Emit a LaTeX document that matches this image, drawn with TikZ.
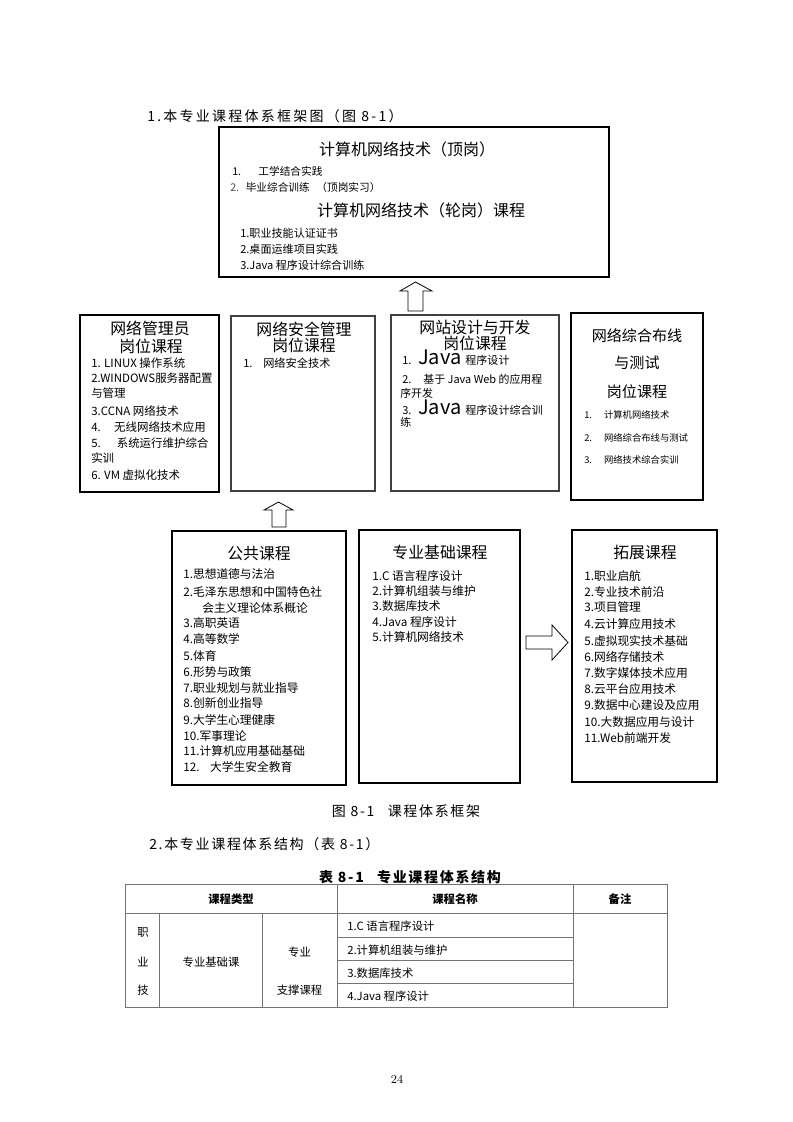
\documentclass[tikz,border=0pt]{standalone}
\usepackage{fontspec}
\usetikzlibrary{fit}
\setmainfont{Noto Sans CJK SC}
\newfontfamily\spaced{Noto Sans CJK SC}[LetterSpace=12]
\newfontfamily\spacedw{Noto Sans CJK SC}[LetterSpace=16]
\newfontfamily\lmr{Latin Modern Roman}
\newcommand{\fsz}[1]{\fontsize{#1pt}{#1pt}\selectfont}
\tikzset{
  bxa/.style={draw=black, line width=1.1pt, inner sep=0pt},
  bxb/.style={draw=black!75, line width=0.8pt, inner sep=0pt},
  ttl/.style={inner sep=0pt, font=\fsz{11.9}},
  itm/.style={inner sep=0pt, anchor=west, font=\fsz{8.8}},
  blk/.style={draw=black, line width=0.6pt, fill=white},
  tbl/.style={draw=black!55, line width=0.7pt},
  ttext/.style={inner sep=0pt, font=\fsz{8.5}},
  hd/.style={inner sep=0pt, font=\spaced\fsz{10.5}},
}
\begin{document}
\begin{tikzpicture}[x=0.75pt, y=-0.75pt]
\useasboundingbox (0,0) rectangle (793,1122);
\fill[white] (0,0) rectangle (793,1122);

% heading
\node[hd, anchor=west, font=\spacedw\fsz{10.5}] (h1) at (147,116) {1.本专业课程体系框架图（图 8-1）};

% top box
\node[bxa, fit={(219,127)(609,277)}] (top) {};
\node[ttl, font=\fsz{12}] (t1) at (407,149) {计算机网络技术（顶岗）};
\node[itm, font=\fsz{8}] (t2) at (232,171) {1.\hspace{13pt}工学结合实践};
\node[itm, font=\fsz{8}] (t3) at (230,187) {\textcolor{black!70}{2.}\hspace{5pt}毕业综合训练\hspace{5pt}（顶岗实习）};
\node[ttl, font=\fsz{12}] (t4) at (421,210) {计算机网络技术（轮岗）课程};
\node[itm, font=\fsz{8.3}] (t5) at (240,233) {1.职业技能认证证书};
\node[itm, font=\fsz{8.3}] (t6) at (240,249) {2.桌面运维项目实践};
\node[itm, font=\fsz{8.3}] (t7) at (240,265) {3.Java 程序设计综合训练};

% middle row
\node[bxa, fit={(80,315)(219,492)}] (m1) {};
\node[bxb, fit={(231,316)(375,491)}] (m2) {};
\node[bxb, fit={(391,315)(559,491)}] (m3) {};
\node[bxa, fit={(571,313)(703,500)}] (m4) {};

\node[ttl] (m1a) at (150,328) {网络管理员};
\node[ttl] (m1b) at (151,346) {岗位课程};
\foreach \yy/\tx [count=\i] in {
  363/{1. LINUX 操作系统},
  378/{2.WINDOWS服务器配置},
  393/{与管理},
  411/{3.CCNA 网络技术},
  427/{4.\hspace{10pt}无线网络技术应用},
  443/{5.\hspace{12pt}系统运行维护综合},
  458/{实训},
  475/{6. VM 虚拟化技术}}
  \node[itm, font=\fsz{8.6}] (mi\i) at (91,\yy) {\tx};

\node[ttl] (m2a) at (304,329) {网络安全管理};
\node[ttl] (m2b) at (304,345) {岗位课程};
\node[itm, font=\fsz{8.4}] (m2i) at (243,363) {1.\hspace{8pt}网络安全技术};

\node[ttl] (m3a) at (475,327) {网站设计与开发};
\node[ttl] (m3b) at (475,343) {岗位课程};
\node[inner sep=0pt, anchor=base west, font=\fsz{8.3}] (m3i1) at (402,364) {1.\hspace{5pt}{\fsz{15}Java}\hspace{3pt}程序设计};
\node[itm, font=\fsz{8.2}] (m3i2) at (402,379) {2.\hspace{9pt}基于 Java Web 的应用程};
\node[itm, font=\fsz{8.2}] (m3i3) at (400,393) {序开发};
\node[inner sep=0pt, anchor=base west, font=\fsz{8.3}] (m3i4) at (402,414) {3.\hspace{5pt}{\fsz{15}Java}\hspace{3pt}程序设计综合训};
\node[itm, font=\fsz{8.2}] (m3i5) at (400,422) {练};

\node[ttl, font=\fsz{11.3}] (m4a) at (637,336) {网络综合布线};
\node[ttl, font=\fsz{11.3}] (m4b) at (637,363) {与测试};
\node[ttl, font=\fsz{11.3}] (m4c) at (637,392) {岗位课程};
\node[itm, font=\fsz{7}] (m4i1) at (584,415) {1.\hspace{9pt}计算机网络技术};
\node[itm, font=\fsz{7}] (m4i2) at (584,438) {2.\hspace{9pt}网络综合布线与测试};
\node[itm, font=\fsz{7}] (m4i3) at (584,460) {3.\hspace{9pt}网络技术综合实训};

% bottom row
\node[bxa, fit={(172,531)(346,785)}] (b1) {};
\node[bxa, fit={(359,530)(520,783)}] (b2) {};
\node[bxa, fit={(572,530)(717,782)}] (b3) {};

\node[ttl] (b1t) at (259,554) {公共课程};
\foreach \yy/\tx [count=\i] in {
  574/{1.思想道德与法治},
  592/{2.毛泽东思想和中国特色社},
  623/{3.高职英语},
  639/{4.高等数学},
  656/{5.体育},
  672/{6.形势与政策},
  688/{7.职业规划与就业指导},
  703/{8.创新创业指导},
  720/{9.大学生心理健康},
  736/{10.军事理论},
  751/{11.计算机应用基础基础},
  767/{12.\hspace{8pt}大学生安全教育}}
  \node[itm] (bi\i) at (183,\yy) {\tx};
\node[itm] (bi2b) at (202,608) {会主义理论体系概论};

\node[ttl] (b2t) at (440,552) {专业基础课程};
\foreach \yy/\tx [count=\i] in {
  576/{1.C 语言程序设计},
  591/{2.计算机组装与维护},
  606/{3.数据库技术},
  622/{4.Java 程序设计},
  637/{5.计算机网络技术}}
  \node[itm] (bj\i) at (372,\yy) {\tx};

\node[ttl] (b3t) at (645,552) {拓展课程};
\foreach \yy/\tx [count=\i] in {
  576/{1.职业启航},
  592/{2.专业技术前沿},
  607/{3.项目管理},
  624/{4.云计算应用技术},
  641/{5.虚拟现实技术基础},
  657/{6.网络存储技术},
  673/{7.数字媒体技术应用},
  689/{8.云平台应用技术},
  705/{9.数据中心建设及应用},
  722/{10.大数据应用与设计},
  738/{11.Web前端开发}}
  \node[itm] (bk\i) at (584,\yy) {\tx};

% block arrows
\coordinate (a1) at (415.5,311);
\draw[blk] (a1) ++(-7.5,0) -- ++(0,-20) -- ++(-8,0) -- ++(15.5,-9) -- ++(16.5,9) -- ++(-9,0) -- ++(0,20) -- cycle;
\coordinate (a2) at (279,527);
\draw[blk] (a2) ++(-7,0) -- ++(0,-17) -- ++(-8,0) -- ++(14.5,-8) -- ++(14.5,8) -- ++(-7,0) -- ++(0,17) -- cycle;
\coordinate (a3) at (526,642.5);
\draw[blk] (a3) ++(0,-6.5) -- ++(26,0) -- ++(0,-11) -- ++(16,17.5) -- ++(-16,17.5) -- ++(0,-11) -- ++(-26,0) -- cycle;

% caption and section heading
\node[hd] (cap) at (406,811) {图 8-1\hspace{10pt}课程体系框架};
\node[hd, anchor=west] (h2) at (149,844) {2.本专业课程体系结构（表 8-1）};
\node[hd, font=\spaced\bfseries\fsz{10.5}] (h3) at (410,877) {表 8-1\hspace{10pt}专业课程体系结构};

% table
\draw[tbl] (125,884) rectangle (667,1007);
\draw[tbl] (125,913) -- (667,913);
\draw[tbl] (337,937) -- (573,937) (337,960) -- (573,960) (337,983) -- (573,983);
\draw[tbl] (337,884) -- (337,1007) (573,884) -- (573,1007);
\draw[tbl] (159,913) -- (159,1007) (262,913) -- (262,1007);
\node[ttext, font=\bfseries\fsz{8.5}] (c1) at (231,899) {课程类型};
\node[ttext, font=\bfseries\fsz{8.5}] (c2) at (455,899) {课程名称};
\node[ttext, font=\bfseries\fsz{8.5}] (c3) at (620,899) {备注};
\node[ttext] (r1) at (143,932) {职};
\node[ttext] (r2) at (143,962) {业};
\node[ttext] (r3) at (143,990) {技};
\node[ttext] (r4) at (211,962) {专业基础课};
\node[ttext] (r5) at (299.5,952) {专业};
\node[ttext] (r6) at (299.5,990) {支撑课程};
\node[ttext, anchor=west] (n1) at (347,926) {1.C 语言程序设计};
\node[ttext, anchor=west] (n2) at (347,950) {2.计算机组装与维护};
\node[ttext, anchor=west] (n3) at (347,973) {3.数据库技术};
\node[ttext, anchor=west] (n4) at (347,996) {4.Java 程序设计};

\node[inner sep=0pt, font=\lmr\fsz{9}] (pg) at (397,1079) {24};
\end{tikzpicture}
\end{document}
